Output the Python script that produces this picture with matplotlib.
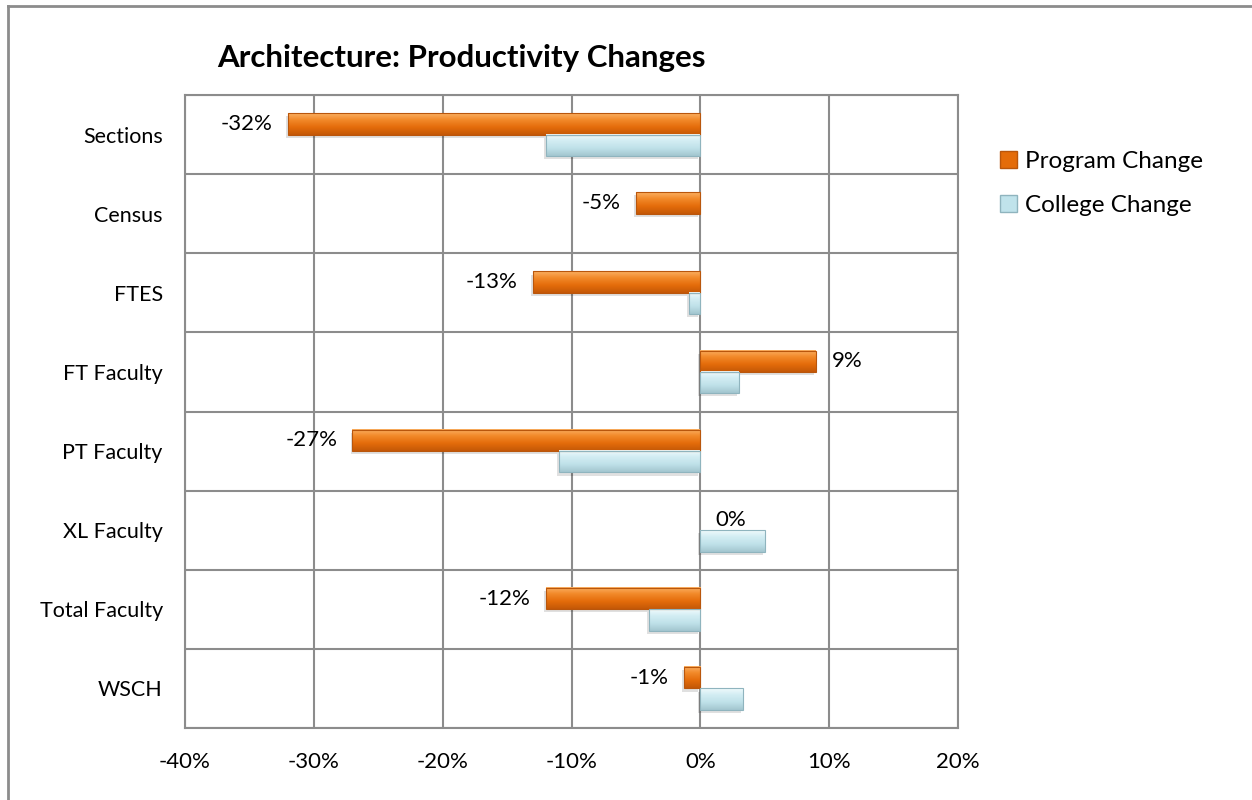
import matplotlib
matplotlib.use("Agg")
import matplotlib.pyplot as plt
from matplotlib.colors import LinearSegmentedColormap
from matplotlib.lines import Line2D
from matplotlib.patches import Patch, Rectangle
import numpy as np

# ---------------------------------------------------------------------------
# Data
# ---------------------------------------------------------------------------

categories = ["Sections", "Census", "FTES", "FT Faculty", "PT Faculty",
              "XL Faculty", "Total Faculty", "WSCH"]
program_change = [-32, -5, -13, 9, -27, 0, -12, -1.3]
college_change = [-12, 0, -0.9, 3.0, -11, 5.0, -4.0, 3.3]
x_ticks = [-40, -30, -20, -10, 0, 10, 20]

title = "Architecture: Productivity Changes"
series_names = ["Program Change", "College Change"]

# ---------------------------------------------------------------------------
# Style
# ---------------------------------------------------------------------------

plt.rcParams['font.family'] = ['Lato', 'DejaVu Sans']
GRID = '#8c8c8c'
BAR_H = 0.27

ORANGE = dict(face='#e46c0a', edge='#b9560c',
              grad=['#fbb062', '#f28a2a', '#e46c0a', '#c45807'])
BLUE = dict(face='#c0e3eb', edge='#8fb4be',
            grad=['#f0fafc', '#d3edf3', '#bfe1e9', '#a3c6cf'])


def gradient_bars(ax, y, widths, pal, zorder=3):
    """Horizontal bars filled with a vertical gradient (Excel-like bevel)."""
    cmap = LinearSegmentedColormap.from_list(
        'bevel', list(zip([0.0, 0.3, 0.65, 1.0], pal['grad'])))
    grad = np.linspace(0, 1, 64).reshape(-1, 1)
    for yc, w in zip(y, widths):
        if w == 0:
            continue
        x0, x1 = sorted((0.0, float(w)))
        top, bot = yc - BAR_H / 2, yc + BAR_H / 2
        # soft drop shadow
        ax.add_patch(Rectangle((x0 - 0.15, top + 0.04), x1 - x0, BAR_H,
                               facecolor='black', alpha=0.12, linewidth=0,
                               zorder=zorder - 1))
        ax.imshow(grad, extent=(x0, x1, bot, top), aspect='auto', cmap=cmap,
                  interpolation='bilinear', zorder=zorder)
        ax.add_patch(Rectangle((x0, top), x1 - x0, BAR_H, facecolor='none',
                               edgecolor=pal['edge'], linewidth=0.8,
                               zorder=zorder + 0.1))


fig = plt.figure(figsize=(12.52, 8), dpi=100)
ax = fig.add_axes([185 / 1252, 1 - 728 / 800, (958 - 185) / 1252, (728 - 95) / 800])

y = np.arange(len(categories))
y_prog = y - BAR_H / 2
y_coll = y + BAR_H / 2

gradient_bars(ax, y_prog, program_change, ORANGE)
gradient_bars(ax, y_coll, college_change, BLUE)

# value labels on the program series
for yp, v in zip(y_prog, program_change):
    ha = 'right' if v < 0 else 'left'
    off = -11 if v < 0 else 11
    ax.annotate(f"{v:.0f}%", xy=(v, yp), xytext=(off, 0),
                textcoords='offset points', ha=ha, va='center',
                fontsize=16, color='#000000', zorder=6)

ax.set_xlim(x_ticks[0], x_ticks[-1])
ax.set_ylim(len(categories) - 0.5, -0.5)
ax.set_aspect('auto')
ax.set_xticks(x_ticks)
ax.set_xticklabels([f"{t}%" for t in x_ticks], fontsize=16)
ax.set_yticks(y)
ax.set_yticklabels(categories, fontsize=15.5)
ax.tick_params(axis='both', length=0)
ax.tick_params(axis='x', pad=17)
ax.tick_params(axis='y', pad=16)

# grid: vertical at ticks, horizontal between categories
for t in x_ticks:
    ax.axvline(t, color=GRID, linewidth=1.5, zorder=1)
for b in np.arange(len(categories) + 1) - 0.5:
    ax.axhline(b, color=GRID, linewidth=1.5, zorder=1)
for s in ax.spines.values():
    s.set_color(GRID)
    s.set_linewidth(1.5)

fig.text(217 / 1252, 1 - 58 / 800, title, fontsize=22.5, fontweight='bold',
         ha='left', va='center')

handles = [Patch(facecolor=ORANGE['face'], edgecolor=ORANGE['edge']),
           Patch(facecolor=BLUE['face'], edgecolor=BLUE['edge'])]
fig.legend(handles, series_names, loc='upper left',
           bbox_to_anchor=(978 / 1252, 1 - 129 / 800), frameon=False,
           fontsize=17.5, handlelength=0.7, handleheight=0.7,
           handletextpad=0.35, labelspacing=0.95)

# chart frame (top and left edges)
fig.add_artist(Line2D([8 / 1252, 8 / 1252], [0, 1 - 6 / 800],
                      transform=fig.transFigure, color=GRID, linewidth=2))
fig.add_artist(Line2D([8 / 1252, 1], [1 - 6 / 800, 1 - 6 / 800],
                      transform=fig.transFigure, color=GRID, linewidth=2))

fig.savefig("out.png", dpi=100, facecolor='white')
